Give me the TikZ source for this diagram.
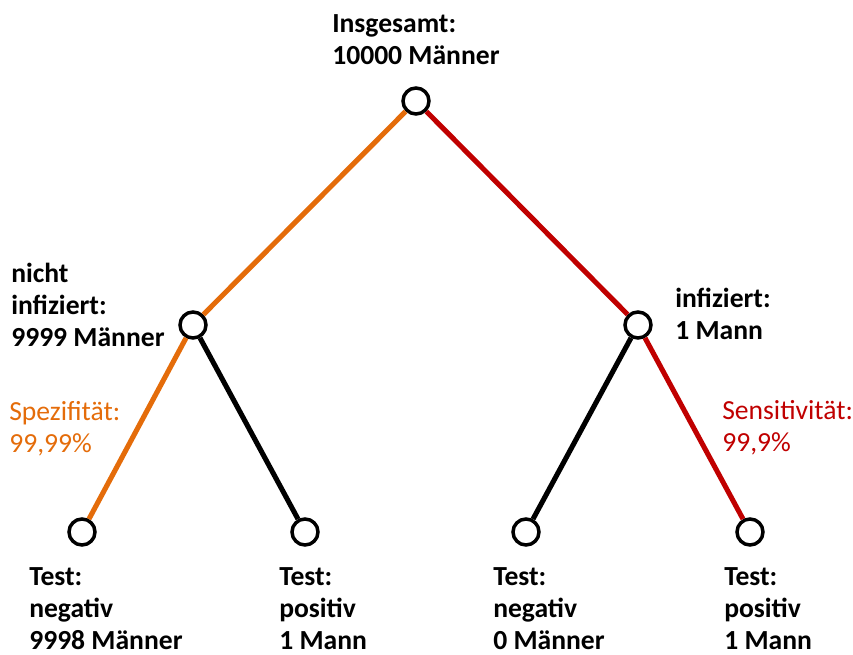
\documentclass[tikz,border=0pt]{standalone}
\usepackage{fontspec}
\setmainfont{Carlito}
\definecolor{spezorange}{RGB}{228,108,10}
\definecolor{sensred}{RGB}{192,0,0}
\begin{document}
\begin{tikzpicture}[x=0.75pt,y=-0.75pt,
        knoten/.style={circle,draw,line width=2.6pt,fill=white,minimum size=19.5pt,inner sep=0pt},
        zweig/.style={line width=3.8pt},
        beschr/.style={anchor=base west,align=left,inner sep=0pt,font=\fontsize{20.7}{24}\selectfont\bfseries},
        wert/.style={anchor=base west,align=left,inner sep=0pt,font=\fontsize{20.7}{24}\selectfont}]
        \useasboundingbox (0,0) rectangle (853,655);
        % knoten
        \node[knoten] (gesamt) at (416,101) {};
        \node[knoten] (nichtinf) at (193,325) {};
        \node[knoten] (inf) at (638,325) {};
        \node[knoten] (nneg) at (82,532) {};
        \node[knoten] (npos) at (305,532) {};
        \node[knoten] (ineg) at (526,532) {};
        \node[knoten] (ipos) at (750,532) {};
        % zweige
        \draw[zweig,spezorange] (gesamt) -- (nichtinf);
        \draw[zweig,sensred] (gesamt) -- (inf);
        \draw[zweig,spezorange] (nichtinf) -- (nneg);
        \draw[zweig] (nichtinf) -- (npos);
        \draw[zweig] (inf) -- (ineg);
        \draw[zweig,sensred] (inf) -- (ipos);
        % beschriftung (base = letzte zeile)
        \node[beschr] (tgesamt) at (332,65) {Insgesamt:\\10000 M\"anner};
        \node[beschr] (tnichtinf) at (11,347) {nicht\\infiziert:\\9999 M\"anner};
        \node[beschr] (tinf) at (675,340) {infiziert:\\1 Mann};
        \node[wert,spezorange] (tspez) at (9,453) {Spezifit\"at:\\99,99\%};
        \node[wert,sensred] (tsens) at (722,452) {Sensitivit\"at:\\99,9\%};
        \node[beschr] (tnneg) at (29,649) {Test:\\negativ\\9998 M\"anner};
        \node[beschr] (tnpos) at (279,649) {Test:\\positiv\\1 Mann};
        \node[beschr] (tineg) at (493,649) {Test:\\negativ\\0 M\"anner};
        \node[beschr] (tipos) at (724,649) {Test:\\positiv\\1 Mann};
\end{tikzpicture}
\end{document}
